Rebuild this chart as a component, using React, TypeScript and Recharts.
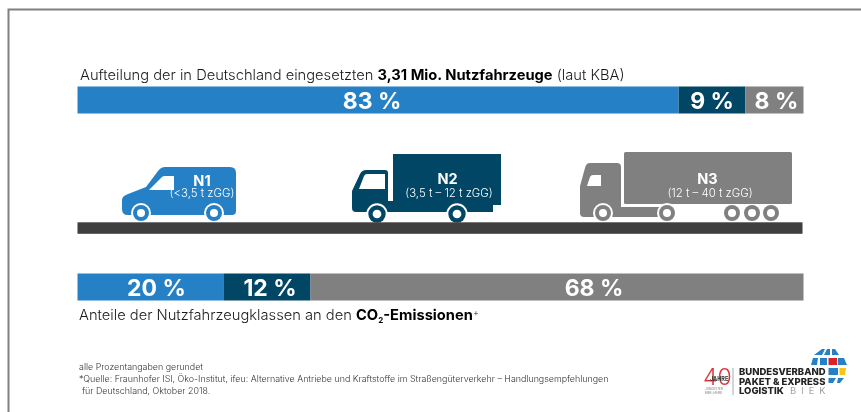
import React from "react";
import { BarChart, Bar, XAxis, YAxis, LabelList } from "recharts";

const rows = ["Fahrzeuge", "Emissionen"];
const n1Values = [82.8, 20.1];
const n2Values = [9.2, 12.0];
const n3Values = [8.0, 67.9];
const n1Labels = ["83 %", "20 %"];
const n2Labels = ["9 %", "12 %"];
const n3Labels = ["8 %", "68 %"];

const data = rows.map((row, i) => ({
  row,
  n1: n1Values[i],
  n2: n2Values[i],
  n3: n3Values[i],
  n1Label: n1Labels[i],
  n2Label: n2Labels[i],
  n3Label: n3Labels[i],
}));

const BLUE = "#2680c6";
const NAVY = "#014665";
const GRAY = "#808080";
const ROAD = "#3f3f3f";
const FONT = "Inter, Roboto, sans-serif";

function shiftedLabel(shifts: number[]) {
  return function SegmentLabel(props: any) {
    const { x, y, width, height, value, index } = props;
    return (
      <text
        x={x + width / 2 + shifts[index]}
        y={y + height / 2 + 1}
        textAnchor="middle"
        dominantBaseline="central"
        fill="#ffffff"
        fontFamily={FONT}
        fontWeight={700}
        fontSize={23}
      >
        {value}
      </text>
    );
  };
}

function Wheel({ x, y, color, r = 8, halo = 2 }: { x: number; y: number; color: string; r?: number; halo?: number }) {
  return (
    <g>
      <circle cx={x} cy={y} r={r + halo} fill="#fff" />
      <circle cx={x} cy={y} r={r} fill={color} />
      <circle cx={x} cy={y} r={r * 0.5} fill="#fff" />
    </g>
  );
}

function Vehicles() {
  return (
    <svg width={861} height={412} style={{ position: "absolute", left: 0, top: 0 }}>
      <path d="M8.5 412 V9.5 H861" fill="none" stroke="#808080" strokeWidth={2} />

      <path
        d="M163 167 H230 Q236 167 236 173 V211 Q236 215 232 215 H128 Q122 215 122 209 V200 Q122 196 128 194 L146 187 L158 171 Q161 167 165 167 Z"
        fill={BLUE}
      />
      <path d="M149 190 L162 177 Q163 176 165 176 H174 V190 Z" fill="#fff" />
      <Wheel x={141} y={213} color={BLUE} />
      <Wheel x={214} y={213} color={BLUE} />

      <path
        d="M393 154 H501 V205 H493 V212 H356 Q352 212 352 208 V191 L360 174 Q362 170 366 170 H385 Q388 170 388 173 V201 H393 Z"
        fill={NAVY}
      />
      <path d="M359 189 L364 176 Q365 174 367 174 H385 V189 Z" fill="#fff" />
      <Wheel x={377} y={214} color={NAVY} r={8.7} />
      <Wheel x={457} y={214} color={NAVY} r={8.7} />

      <rect x={624} y={152} width={168} height={52} rx={1.5} fill={GRAY} />
      <path
        d="M590 163 H617 Q621 163 621 167 V207 H660 V217 H584 Q580 217 580 213 V186 L585 168 Q586 163 590 163 Z"
        fill={GRAY}
      />
      <path d="M587 186 L590 177 Q591 175 593 175 H601 V186 Z" fill="#fff" />
      <Wheel x={603} y={213} color={GRAY} />
      <Wheel x={667} y={213} color={GRAY} />
      <Wheel x={732} y={213} color={GRAY} r={8} halo={0} />
      <Wheel x={752} y={213} color={GRAY} r={8} halo={0} />
      <Wheel x={771} y={213} color={GRAY} r={8} halo={0} />

      <rect x={77.5} y={222.3} width={725} height={11.5} fill={ROAD} />

      <g fontFamily={FONT} fill="#fff" textAnchor="middle">
        <text x={202} y={186} fontSize={14.5} fontWeight={700}>N1</text>
        <text x={202} y={197} fontSize={11.4} fontWeight={300}>(&lt;3,5 t zGG)</text>
        <text x={447.5} y={184} fontSize={14.5} fontWeight={700}>N2</text>
        <text x={449} y={197} fontSize={11.4} fontWeight={300}>(3,5 t – 12 t zGG)</text>
        <text x={707.5} y={184} fontSize={14.5} fontWeight={700}>N3</text>
        <text x={710} y={197} fontSize={11.4} fontWeight={300}>(12 t – 40 t zGG)</text>
      </g>

      <g fontFamily={FONT} fill="#1a1a1a">
        <text x={80} y={80} fontSize={14.7} fontWeight={300}>
          Aufteilung der in Deutschland eingesetzten{" "}
          <tspan fontWeight={700} fill="#000">3,31 Mio. Nutzfahrzeuge</tspan> (laut KBA)
        </text>
        <text x={79} y={320} fontSize={14.7} fontWeight={300}>
          Anteile der Nutzfahrzeugklassen an den{" "}
          <tspan fontWeight={700} fill="#000">CO</tspan>
          <tspan fontWeight={700} fill="#000" fontSize={8} dy={3}>2</tspan>
          <tspan fontWeight={700} fill="#000" dy={-3}>-Emissionen</tspan>
          <tspan fontSize={9} dy={-4}>+</tspan>
        </text>
        <g fontSize={8.9} fontWeight={300} fill="#333">
          <text x={79} y={370}>alle Prozentangaben gerundet</text>
          <text x={79} y={382}>
            *Quelle: Fraunhofer ISI, Öko-Institut, ifeu: Alternative Antriebe und Kraftstoffe im Straßengüterverkehr – Handlungsempfehlungen
          </text>
          <text x={82} y={394}>für Deutschland, Oktober 2018.</text>
        </g>
      </g>

      <g fontFamily={FONT}>
        <text x={703} y={385} fontSize={23} fontWeight={300} fill="#d9383a">40</text>
        <text x={710} y={381} fontSize={5.5} fontWeight={700} fill="#333">JAHRE</text>
        <text x={705} y={390} fontSize={3} fill="#777">JUNGESTER</text>
        <text x={705} y={394} fontSize={3} fill="#777">BIEK-JAHRE</text>
        <line x1={733} y1={368} x2={733} y2={395} stroke="#888" strokeWidth={0.7} />
        <g fontSize={9.5} fontWeight={800} fill="#222">
          <text x={739} y={375}>BUNDESVERBAND</text>
          <text x={739} y={384.5}>PAKET &amp; EXPRESS</text>
          <text x={739} y={394}>LOGISTIK</text>
        </g>
        <text x={790} y={394} fontSize={9.5} fontWeight={300} fill="#888" letterSpacing={5}>BIEK</text>
      </g>

      <g>
        <path d="M814 355 L822 349 L825 349 L822 355 Z" fill={BLUE} />
        <path d="M824 355 L827 349 H830 V355 Z" fill={BLUE} />
        <path d="M832 355 V349 H835 L839 355 Z" fill={BLUE} />
        <path d="M811 365 L813 358 H818 L817 365 Z" fill={BLUE} />
        <rect x={820} y={358} width={7} height={7} fill={BLUE} />
        <rect x={828.5} y={358} width={8.5} height={7} fill="#d8232a" />
        <path d="M838 358 H844 L847 365 H838 Z" fill={BLUE} />
        <rect x={828.5} y={368} width={9.5} height={7} fill={BLUE} />
        <path d="M839.5 368 H846 L845 375 H839.5 Z" fill="#f5c518" />
        <path d="M828.5 378 H836 L833 383 H828.5 Z" fill={BLUE} />
        <path d="M838 378 H844 L840 383 H837 Z" fill={BLUE} />
      </g>
    </svg>
  );
}

export default function App() {
  return (
    <div
      style={{
        position: "absolute",
        left: 0,
        top: 0,
        width: 861,
        height: 412,
        background: "#fff",
        overflow: "hidden",
        filter: "blur(0.4px)",
      }}
    >
      <Vehicles />
      <div style={{ position: "absolute", left: 0, top: 0 }}>
        <BarChart
          width={861}
          height={412}
          data={data}
          layout="vertical"
          margin={{ top: 6.5, right: 57.5, bottom: 31.5, left: 77.5 }}
          barCategoryGap={0}
          style={{ pointerEvents: "none" }}
        >
          <XAxis type="number" domain={[0, 100]} hide />
          <YAxis type="category" dataKey="row" hide />
          <Bar dataKey="n1" stackId="s" fill={BLUE} barSize={27} isAnimationActive={false}>
            <LabelList dataKey="n1Label" content={shiftedLabel([-6, 6])} />
          </Bar>
          <Bar dataKey="n2" stackId="s" fill={NAVY} barSize={27} isAnimationActive={false}>
            <LabelList dataKey="n2Label" content={shiftedLabel([0, 3])} />
          </Bar>
          <Bar dataKey="n3" stackId="s" fill={GRAY} barSize={27} isAnimationActive={false}>
            <LabelList dataKey="n3Label" content={shiftedLabel([2, 37])} />
          </Bar>
        </BarChart>
      </div>
    </div>
  );
}
